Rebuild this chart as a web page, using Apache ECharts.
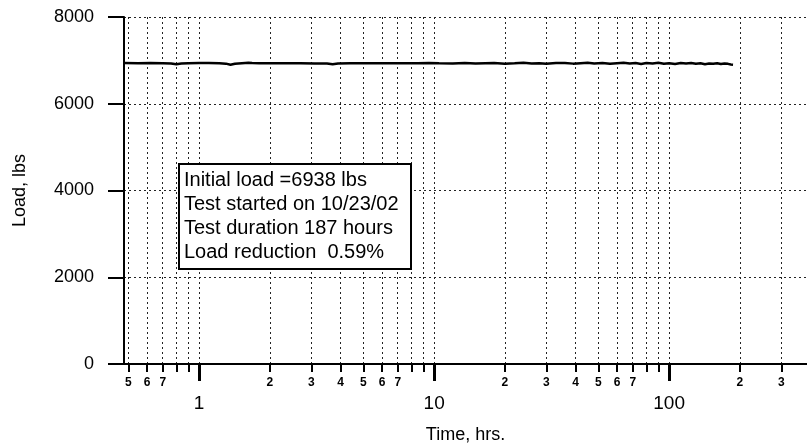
<!DOCTYPE html>
<html>
<head>
<meta charset="utf-8">
<script src="https://cdn.jsdelivr.net/npm/echarts@6/dist/echarts.min.js"></script>
<style>
  html, body { margin: 0; padding: 0; background: #fff; }
  #main { width: 807px; height: 443px; }
</style>
</head>
<body>
<div id="main"></div>
<script>
// time in hours
const hours = [0.48, 0.55, 0.62, 0.7, 0.76, 0.8, 0.84, 0.9, 1.0, 1.1, 1.22, 1.3, 1.36, 1.42, 1.52, 1.62, 1.68, 1.8, 2.0, 2.3, 2.7, 3.1, 3.5, 3.7, 3.9, 4.4, 5.0, 5.8, 6.6, 7.5, 8.5, 9.5, 10.5, 12, 13.5, 15, 16.5, 18, 20, 22, 24, 26, 28, 30, 33, 36, 39, 42, 45, 48, 52, 56, 60, 64, 68, 72, 76, 80, 85, 90, 95, 100, 106, 112, 118, 124, 130, 136, 142, 148, 154, 160, 166, 172, 178, 183, 187];
// load in lbs
const load = [6938, 6936, 6938, 6935, 6930, 6912, 6928, 6936, 6938, 6937, 6935, 6925, 6898, 6922, 6936, 6945, 6938, 6936, 6934, 6935, 6933, 6930, 6928, 6912, 6930, 6934, 6935, 6933, 6936, 6932, 6935, 6937, 6933, 6930, 6938, 6926, 6934, 6940, 6925, 6932, 6945, 6928, 6935, 6920, 6938, 6942, 6925, 6936, 6946, 6928, 6940, 6922, 6935, 6944, 6926, 6938, 6918, 6940, 6930, 6945, 6922, 6935, 6918, 6938, 6928, 6940, 6920, 6932, 6912, 6930, 6922, 6935, 6915, 6930, 6920, 6905, 6900];
// axis ticks
const minorTicks = [0.5, 0.6, 0.7, 0.8, 0.9, 2, 3, 4, 5, 6, 7, 8, 9, 20, 30, 40, 50, 60, 70, 80, 90, 200, 300];
const minorLabels = [0.5, 0.6, 0.7, 2, 3, 4, 5, 6, 7, 20, 30, 40, 50, 60, 70, 200, 300];
const decadeTicks = [1, 10, 100];
const note = [
  'Initial load =6938 lbs',
  'Test started on 10/23/02',
  'Test duration 187 hours',
  'Load reduction  0.59%'
];

const font = '"Liberation Sans", Arial, sans-serif';
const xMin = 0.479, xMax = 386;

let chart = echarts.init(document.getElementById('main'));
let option = {
  animation: false,
  backgroundColor: '#fff',
  grid: { left: 124, right: 0, top: 17, bottom: 79, outerBoundsMode: 'none' },
  xAxis: [
    {
      type: 'log',
      min: xMin,
      max: xMax,
      position: 'bottom',
      axisLine: { show: true, lineStyle: { color: '#000', width: 2 } },
      axisTick: { show: true, length: 8, lineStyle: { color: '#000', width: 2 }, customValues: minorTicks },
      axisLabel: {
        customValues: minorLabels,
        margin: 13,
        fontFamily: font,
        fontSize: 12,
        fontWeight: 'bold',
        color: '#000',
        formatter: function (v) {
          let p = Math.pow(10, Math.floor(Math.log10(v) + 1e-9));
          return String(Math.round(v / p));
        }
      },
      splitLine: { show: true, lineStyle: { color: '#222', width: 1, type: [2, 3] } },
      minorTick: { show: false },
      name: 'Time, hrs.',
      nameLocation: 'middle',
      nameGap: 62,
      nameTextStyle: { fontFamily: font, fontSize: 18, color: '#000' }
    },
    {
      type: 'log',
      min: xMin,
      max: xMax,
      position: 'bottom',
      axisLine: { show: false },
      axisTick: { show: true, length: 17, lineStyle: { color: '#000', width: 3 }, customValues: decadeTicks },
      axisLabel: {
        customValues: decadeTicks,
        margin: 30,
        fontFamily: font,
        fontSize: 19,
        color: '#000'
      },
      splitLine: { show: true, lineStyle: { color: '#222', width: 1, type: [2, 3] } }
    }
  ],
  yAxis: {
    type: 'value',
    min: 0,
    max: 8000,
    interval: 2000,
    axisLine: { show: true, lineStyle: { color: '#000', width: 2 } },
    axisTick: { show: true, length: 16, lineStyle: { color: '#000', width: 2 } },
    axisLabel: {
      margin: 30,
      fontFamily: font,
      fontSize: 18,
      color: '#000',
      formatter: function (v) { return String(v); }
    },
    splitLine: { show: true, lineStyle: { color: '#222', width: 1, type: [2, 3] } },
    name: 'Load, lbs',
    nameLocation: 'middle',
    nameGap: 95,
    nameTextStyle: { fontFamily: font, fontSize: 18, color: '#000' }
  },
  series: [
    {
      type: 'line',
      xAxisIndex: 0,
      data: hours.map((h, i) => [h, load[i]]),
      showSymbol: false,
      symbol: 'none',
      lineStyle: { color: '#000', width: 2.5 }
    }
  ],
  graphic: [
    {
      type: 'rect',
      left: 178,
      top: 163,
      z: 10,
      shape: { width: 232, height: 105 },
      style: { fill: '#fff', stroke: '#000', lineWidth: 2 }
    },
    {
      type: 'text',
      left: 184,
      top: 168,
      z: 11,
      style: {
        text: note.join('\n'),
        font: '20px ' + font,
        lineHeight: 24,
        fill: '#000'
      }
    }
  ]
};
chart.setOption(option);
</script>
</body>
</html>
